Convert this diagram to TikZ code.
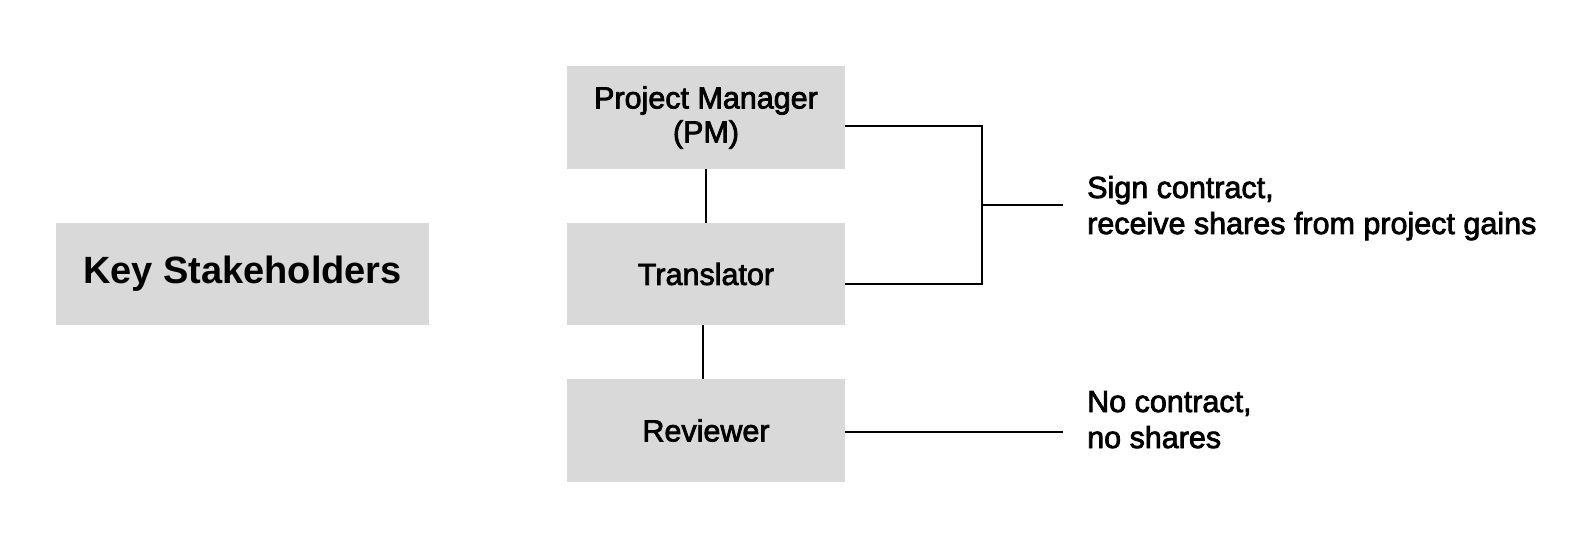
\documentclass[tikz,border=0pt]{standalone}
\usepackage{fontspec}
\setmainfont{Liberation Sans}
\newfontfamily\medfont[RawFeature={embolden=2.5}]{Liberation Sans}
\definecolor{boxgray}{HTML}{D9D9D9}
\begin{document}
\begin{tikzpicture}[x=1pt,y=-1pt,
  rolebox/.style={fill=boxgray,draw=none,inner sep=0pt,minimum width=278pt,minimum height=102pt,align=center,font=\medfont\fontsize{30.5}{34}\selectfont},
  keybox/.style={fill=boxgray,draw=none,inner sep=0pt,minimum width=373pt,minimum height=102pt,font=\fontsize{38}{40}\selectfont\bfseries},
  note/.style={inner sep=0pt,anchor=base west,align=left,font=\medfont\fontsize{30.5}{36}\selectfont},
  link/.style={line width=2.2pt,black}]
\useasboundingbox (0,0) rectangle (1580,548);
\node[keybox] (ks) at (242.5,274) {Key Stakeholders};
\node[rolebox,minimum height=103pt] (pm) at (706,117.5) {Project Manager\\(PM)};
\node[rolebox] (tr) at (706,274) {Translator};
\node[rolebox,minimum height=103pt] (rv) at (706,430.5) {Reviewer};
\node[note] (sc) at (1087,234) {Sign contract,\\receive shares from project gains};
\node[note] (nc) at (1087,448) {No contract,\\no shares};
\coordinate (j) at (982,205);
\coordinate (e1) at (1063,205);
\coordinate (e2) at (1063,432);
\draw[link] (pm.south) -- (tr.north);
\draw[link] ([xshift=-3pt]tr.south) -- ([xshift=-3pt]rv.north);
\draw[link] ([yshift=-8.5pt]pm.east) -| (j) |- ([yshift=-10pt]tr.east);
\draw[link] (j) -- (e1);
\draw[link] ([yshift=-1.5pt]rv.east) -- (e2);
\end{tikzpicture}
\end{document}
